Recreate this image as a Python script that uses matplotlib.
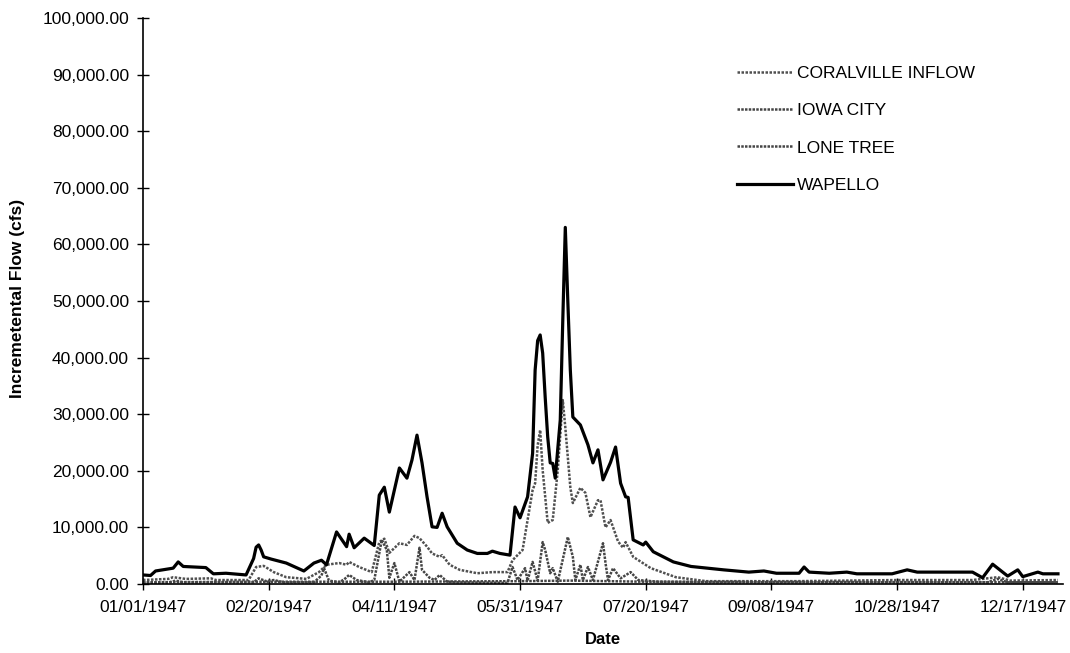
import matplotlib
matplotlib.use("Agg")
import matplotlib.pyplot as plt
from matplotlib.ticker import FuncFormatter, FixedLocator

# ---------------- data (day of year 1947, 0 = 01/01/1947) ----------------
tick_days = [0, 50, 100, 150, 200, 250, 300, 350]
tick_labels = ["01/01/1947", "02/20/1947", "04/11/1947", "05/31/1947",
               "07/20/1947", "09/08/1947", "10/28/1947", "12/17/1947"]

wapello_days = [0, 3, 5, 12, 14, 16, 25, 28, 33, 41, 44, 45, 46, 47, 48, 51, 57, 64, 68, 71, 73,
                77, 81, 82, 84, 88, 92, 94, 96, 98, 102, 105, 107, 109, 111, 113, 115, 117, 119,
                121, 125, 129, 133, 137, 139, 142, 146, 148, 150, 153, 155, 156, 157, 158, 159,
                160, 161, 162, 163, 164, 166, 167, 168, 169, 170, 171, 174, 177, 179, 181, 183,
                186, 188, 190, 192, 193, 195, 199, 200, 203, 211, 218, 231, 241, 247, 252, 261,
                263, 265, 273, 280, 284, 298, 304, 308, 318, 330, 334, 338, 344, 348, 350, 356,
                358, 364]
wapello_flow = [1600, 1500, 2300, 2800, 3900, 3100, 2900, 1800, 1900, 1600, 4500, 6500, 6900,
                6000, 4800, 4400, 3700, 2300, 3700, 4200, 3400, 9200, 6600, 8800, 6400, 8100,
                6800, 15700, 17100, 12700, 20500, 18700, 21900, 26300, 21400, 15400, 10100,
                10000, 12500, 10100, 7200, 6000, 5400, 5400, 5800, 5400, 5100, 13600, 11700,
                15400, 23100, 37800, 43000, 44000, 40800, 33000, 26000, 21400, 21300, 18700,
                29000, 46600, 63000, 50000, 37800, 29500, 28100, 24600, 21400, 23700, 18400,
                21500, 24200, 17800, 15400, 15300, 7800, 6900, 7400, 5700, 3900, 3100, 2500,
                2100, 2300, 1900, 1900, 3000, 2100, 1900, 2100, 1800, 1800, 2500, 2100, 2100,
                2100, 1100, 3500, 1400, 2500, 1300, 2100, 1800, 1800]

coralville_days = [0, 10, 12, 17, 27, 29, 42, 45, 48, 52, 57, 65, 70, 73, 78, 81, 82, 86, 91,
                   94, 96, 98, 102, 105, 108, 110, 113, 115, 118, 119, 122, 126, 133, 139, 145,
                   147, 151, 155, 156, 157, 158, 159, 161, 163, 165, 167, 168, 170, 171, 174,
                   176, 178, 181, 182, 184, 186, 189, 191, 192, 195, 202, 212, 224, 260, 300,
                   330, 340, 345, 364]
coralville_flow = [700, 900, 1200, 900, 1000, 700, 700, 3000, 3200, 2100, 1200, 900, 2100, 3400,
                   3700, 3400, 3900, 3000, 2100, 7400, 8000, 5500, 7200, 6900, 8500, 8100, 6600,
                   5400, 4800, 5100, 3400, 2500, 1900, 2100, 2100, 4200, 6000, 16600, 17800,
                   24500, 27200, 20100, 10800, 11300, 20100, 32500, 27700, 17100, 14300, 17000,
                   16100, 11800, 14800, 14800, 10000, 11300, 7500, 6400, 7400, 4800, 2800, 1200,
                   500, 500, 700, 700, 1200, 600, 700]

iowa_city_days = [0, 10, 13, 16, 30, 44, 46, 49, 52, 56, 68, 71, 72, 74, 78, 80, 82, 85, 90, 92,
                  95, 97, 98, 100, 102, 106, 108, 110, 111, 114, 116, 118, 121, 125, 145, 147,
                  149, 152, 153, 155, 157, 159, 160, 162, 163, 165, 169, 171, 172, 174, 175,
                  177, 179, 183, 184, 185, 187, 190, 194, 197, 205, 230, 300, 336, 340, 344, 364]
iowa_city_flow = [200, 250, 600, 300, 300, 300, 1000, 500, 700, 300, 300, 1500, 2800, 600, 300,
                  800, 1600, 700, 300, 700, 7800, 6000, 1100, 3700, 400, 2100, 700, 6400, 2500,
                  1100, 700, 1600, 400, 300, 200, 3000, 700, 2800, 600, 3900, 600, 7400, 6000,
                  1900, 2800, 400, 8300, 4800, 700, 3400, 700, 3000, 700, 7200, 3700, 700, 2800,
                  1000, 2100, 700, 400, 300, 300, 300, 900, 300, 300]

lone_tree_days = [0, 45, 100, 150, 170, 200, 364]
lone_tree_flow = [300, 400, 400, 500, 600, 400, 300]

# ---------------- figure ----------------
plt.rcParams["font.family"] = ["Liberation Sans", "DejaVu Sans"]
W, H = 1070, 653
fig = plt.figure(figsize=(W / 100, H / 100), dpi=100)
L, R, B, T = 143, 1063, 584, 18
ax = fig.add_axes([L / W, 1 - B / H, (R - L) / W, (B - T) / H])

ax.plot(coralville_days, coralville_flow, color="#505050", lw=1.8,
        linestyle=(0, (1, 0.6)), label="CORALVILLE INFLOW")
ax.plot(iowa_city_days, iowa_city_flow, color="#454545", lw=1.8,
        linestyle=(0, (1, 0.5)), label="IOWA CITY")
ax.plot(lone_tree_days, lone_tree_flow, color="#454545", lw=1.8,
        linestyle=(0, (1, 0.5)), label="LONE TREE")
ax.plot(wapello_days, wapello_flow, color="black", lw=2.3, label="WAPELLO")

ax.set_xlim(0, 366)
ax.set_ylim(0, 100000)
ax.yaxis.set_major_locator(FixedLocator(list(range(0, 100001, 10000))))
ax.yaxis.set_major_formatter(FuncFormatter(lambda v, p: f"{v:,.2f}"))
ax.set_xticks(tick_days)
ax.set_xticklabels(tick_labels)

for s in ["top", "right"]:
    ax.spines[s].set_visible(False)
for s in ["left", "bottom"]:
    ax.spines[s].set_linewidth(1.2)
    ax.spines[s].set_color("black")

ax.tick_params(axis="y", direction="inout", length=8, width=1.0, labelsize=12.5, pad=6)
ax.tick_params(axis="x", direction="inout", length=9, width=1.0, labelsize=12.5, pad=7)

fig.text(18 / W, 1 - 298 / H, "Incremetental Flow (cfs)", rotation=90,
         ha="center", va="center", fontsize=12.5, fontweight="bold")
fig.text(603 / W, 1 - 640 / H, "Date", ha="center", va="center",
         fontsize=12, fontweight="bold")

ax.legend(loc="upper left", bbox_to_anchor=(737 / W, 1 - 66 / H),
          bbox_transform=fig.transFigure, frameon=False, borderpad=0,
          borderaxespad=0, handlelength=3.2, handletextpad=0.25,
          labelspacing=1.27, fontsize=12.5)

fig.savefig("out.png", dpi=100)
